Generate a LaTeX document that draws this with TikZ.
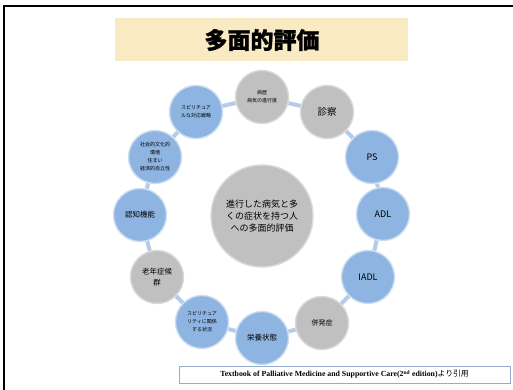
\documentclass[tikz,border=0pt]{standalone}
\usepackage{fontspec}
\setmainfont{Liberation Serif}
\newfontfamily\jpfont{Noto Sans CJK JP}
\newfontfamily\jptitle[BoldFeatures={FakeBold=1.2}]{Noto Sans CJK JP}
\usetikzlibrary{backgrounds}
\definecolor{ballblue}{RGB}{142,180,226}
\definecolor{ballgray}{RGB}{192,192,192}
\definecolor{linkblue}{RGB}{178,204,234}
\definecolor{titlebg}{RGB}{249,234,196}
\definecolor{citeframe}{RGB}{150,172,205}
\tikzset{grayBall/.style={circle,draw=white!85!black,line width=1.4pt,fill=ballgray,minimum size=53pt,inner sep=0pt,align=center,font=\jpfont\fontsize{5}{8}\selectfont}}
\tikzset{blueBall/.style={grayBall,fill=ballblue,draw=ballblue!45!white}}
\tikzset{bigText/.style={font=\jpfont\fontsize{9}{12}\selectfont}}
\tikzset{linkLine/.style={draw=linkblue,line width=4pt}}

\begin{document}
\begin{tikzpicture}[x=1pt,y=-1pt]
\useasboundingbox (0,0) rectangle (513,390);
% frame and title
\draw[line width=2.5pt] (4,390) -- (4,6) -- (514,6);
\node (titlebox) [fill=titlebg,minimum width=293pt,minimum height=43pt,inner sep=0pt] at (261.5,39.5) {};
\node (title) at (262,40) {\jptitle\bfseries\fontsize{23}{23}\selectfont 多面的評価};
% the ring
\node (center) [grayBall,minimum size=102pt,bigText] at (262,216) {進行した病気と多\\くの症状を持つ人\\への多面的評価};
\node (hist)  [grayBall] at (262,97)  {病歴\\病気の進行度};
\node (exam)  [grayBall,font=\jpfont\fontsize{9.5}{12}\selectfont] at (327,112) {診察};
\node (ps)    [blueBall,bigText] at (372,157) {PS};
\node (adl)   [blueBall,bigText] at (383,214) {ADL};
\node (iadl)  [blueBall,bigText] at (368,277) {IADL};
\node (comp)  [grayBall,font=\jpfont\fontsize{7}{9}\selectfont] at (322,323) {併発症};
\node (nutr)  [blueBall,font=\jpfont\fontsize{7.5}{9}\selectfont] at (262,338) {栄養状態};
\node (spsit) [blueBall] at (202,322) {スピリチュア\\リティに関係\\する状況};
\node (geri)  [grayBall,font=\jpfont\fontsize{7.5}{11}\selectfont] at (157,277) {老年症候\\群};
\node (cogn)  [blueBall,font=\jpfont\fontsize{7.5}{9}\selectfont] at (140,215) {認知機能};
\node (soc)   [blueBall] at (155,157) {社会的文化的\\環境\\住まい\\経済的自立性};
\node (spcop) [blueBall] at (196,112) {スピリチュア\\ルな対応戦略};
\begin{scope}[on background layer]
\foreach \a/\b in {hist/exam,exam/ps,ps/adl,adl/iadl,iadl/comp,comp/nutr,nutr/spsit,spsit/geri,geri/cogn,cogn/soc,soc/spcop,spcop/hist}
  \draw[linkLine] (\a) -- (\b);
\end{scope}
% source
\node (cite) [draw=citeframe,line width=0.8pt,fill=white,minimum width=331pt,minimum height=17pt,inner sep=0pt,font=\bfseries\fontsize{7.8}{9}\selectfont] at (344.5,374.5) {Textbook of Palliative Medicine and Supportive Care(2\textsuperscript{nd} edition){\jpfont\mdseries より引用}};
\end{tikzpicture}
\end{document}
